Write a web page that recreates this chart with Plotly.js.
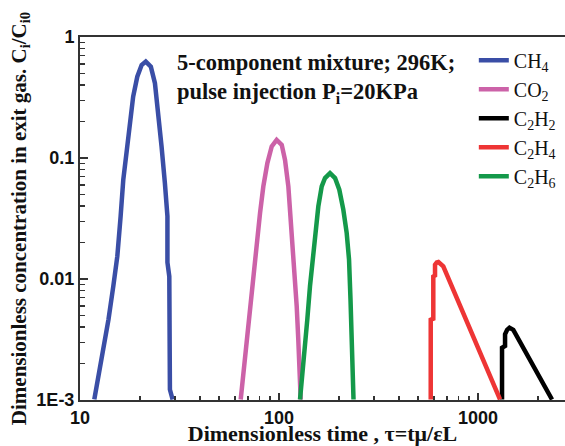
<!DOCTYPE html>
<html>
<head>
<meta charset="utf-8">
<script src="https://cdn.plot.ly/plotly-3.0.1.min.js"></script>
<style>html,body{margin:0;padding:0;background:#fff;}#chart{width:565px;height:446px;}</style>
</head>
<body>
<div id="chart"></div>
<script>
// Series names (legend order)
const seriesNames = ['CH<sub>4</sub>', 'CO<sub>2</sub>', 'C<sub>2</sub>H<sub>2</sub>', 'C<sub>2</sub>H<sub>4</sub>', 'C<sub>2</sub>H<sub>6</sub>'];
const seriesColors = ['#3a4ea6', '#cc62a8', '#000000', '#ee3535', '#14994a'];

// CH4
const ch4X = [11.8, 12.4, 13.1, 13.9, 14.7, 15.4, 16.0, 16.5, 17.2, 17.8, 18.5, 19.4, 20.4, 21.4, 22.7, 23.8, 24.7, 25.7, 26.7, 27.5, 27.5, 28.1, 28.3, 29.2];
const ch4Y = [0.00101, 0.00157, 0.00261, 0.00462, 0.00871, 0.0154, 0.0329, 0.0661, 0.117, 0.207, 0.322, 0.470, 0.587, 0.626, 0.569, 0.415, 0.250, 0.124, 0.0621, 0.0329, 0.0137, 0.0105, 0.00122, 0.00101];
// CO2
const co2X = [64.2, 66.2, 68.8, 71.5, 74.3, 77.3, 80.3, 83.4, 87.4, 91.9, 97.3, 103.2, 107.2, 111.4, 115.8, 120.3, 122.7, 125.0, 127.5, 128.5];
const co2Y = [0.00101, 0.00168, 0.00279, 0.00492, 0.00929, 0.0186, 0.0351, 0.0582, 0.0908, 0.1245, 0.1413, 0.1285, 0.0963, 0.0582, 0.0256, 0.00989, 0.00596, 0.00316, 0.00148, 0.00101];
// C2H2
const c2h2X = [1320, 1320, 1367, 1367, 1400, 1439, 1504, 2354];
const c2h2Y = [0.00101, 0.0027, 0.0028, 0.0035, 0.0038, 0.00395, 0.0038, 0.00101];
// C2H4
const c2h4X = [578.5, 578.5, 596, 596, 608, 608, 620, 632, 669, 929, 1290];
const c2h4Y = [0.00101, 0.0046, 0.0047, 0.0105, 0.0107, 0.0131, 0.0137, 0.0138, 0.0127, 0.00366, 0.00101];
// C2H6
const c2h6X = [127.5, 131.5, 135.1, 138.7, 143.1, 148.7, 153.5, 157.6, 163.9, 170.3, 180.4, 191.2, 200.9, 210.4, 218.8, 224.8, 228.7, 232.7, 235.4, 236.8];
const c2h6Y = [0.00101, 0.00168, 0.00279, 0.00462, 0.00871, 0.0164, 0.0272, 0.0398, 0.0582, 0.0683, 0.0750, 0.0683, 0.0547, 0.0374, 0.0240, 0.0145, 0.00676, 0.00316, 0.00148, 0.00101];

// Axis ticks
const xTickVals = [10, 100, 1000];
const xTickText = ['10', '100', '1000'];
const xMinorVals = [20, 30, 40, 50, 60, 70, 80, 90, 200, 300, 400, 500, 600, 700, 800, 900, 2000, 3000];
const yTickVals = [0.001, 0.01, 0.1, 1];
const yTickText = ['1E-3', '0.01', '0.1', '1'];
const yMinorVals = [0.002, 0.003, 0.004, 0.005, 0.006, 0.007, 0.008, 0.009, 0.02, 0.03, 0.04, 0.05, 0.06, 0.07, 0.08, 0.09, 0.2, 0.3, 0.4, 0.5, 0.6, 0.7, 0.8, 0.9];

const xs = [ch4X, co2X, c2h2X, c2h4X, c2h6X];
const ys = [ch4Y, co2Y, c2h2Y, c2h4Y, c2h6Y];

const traces = seriesNames.map((n, i) => ({
  x: xs[i], y: ys[i], name: n, type: 'scatter', mode: 'lines',
  line: {color: seriesColors[i], width: 4.5, shape: 'linear'}
}));

const serif = 'Liberation Serif, Times New Roman, serif';
const sans = 'Liberation Sans, Arial, sans-serif';

const layout = {
  width: 565, height: 446,
  margin: {l: 80, r: 0, t: 37, b: 46},
  paper_bgcolor: '#fff', plot_bgcolor: '#fff',
  showlegend: true,
  legend: {
    x: 0.812, y: 0.99, xanchor: 'left', yanchor: 'top',
    font: {family: serif, size: 20, color: '#111'},
    bgcolor: 'rgba(0,0,0,0)', tracegroupgap: 0, itemwidth: 30
  },
  xaxis: {
    type: 'log', range: [1, 3.437],
    showline: true, linecolor: '#333', linewidth: 2, mirror: true,
    showgrid: false, zeroline: false,
    tickmode: 'array', tickvals: xTickVals, ticktext: xTickText,
    ticks: 'inside', ticklen: 7, tickwidth: 1.5, tickcolor: '#333',
    minor: {tickmode: 'array', tickvals: xMinorVals, ticks: 'inside', ticklen: 4, tickwidth: 1.5, tickcolor: '#333', showgrid: false},
    tickfont: {family: sans, size: 18, weight: 'bold', color: '#111'},
    title: {text: 'Dimensionless time , τ=tμ/εL', font: {family: serif, size: 22, weight: 'bold', color: '#111'}, standoff: 0},
    automargin: false
  },
  yaxis: {
    type: 'log', range: [-3, 0],
    showline: true, linecolor: '#333', linewidth: 2, mirror: false,
    showgrid: false, zeroline: false,
    tickmode: 'array', tickvals: yTickVals, ticktext: yTickText,
    ticks: 'inside', ticklen: 8, tickwidth: 1.5, tickcolor: '#333',
    minor: {tickmode: 'array', tickvals: yMinorVals, ticks: 'inside', ticklen: 5, tickwidth: 1.5, tickcolor: '#333', showgrid: false},
    tickfont: {family: sans, size: 18, weight: 'bold', color: '#111'},
    title: {text: 'Dimensionless concentration in exit gas. C<sub>i</sub>/C<sub>i0</sub>', font: {family: serif, size: 21, weight: 'bold', color: '#111'}, standoff: 4},
    automargin: false
  },
  annotations: [
    {xref: 'paper', yref: 'paper', x: 0.195, y: 0.93, xanchor: 'left', yanchor: 'middle', showarrow: false,
     text: '5-component mixture; 296K;', font: {family: serif, size: 22.5, weight: 'bold', color: '#111'}},
    {xref: 'paper', yref: 'paper', x: 0.195, y: 0.845, xanchor: 'left', yanchor: 'middle', showarrow: false,
     text: 'pulse injection P<sub>i</sub>=20KPa', font: {family: serif, size: 22.5, weight: 'bold', color: '#111'}}
  ]
};

Plotly.newPlot('chart', traces, layout, {staticPlot: true, displayModeBar: false});
</script>
</body>
</html>
